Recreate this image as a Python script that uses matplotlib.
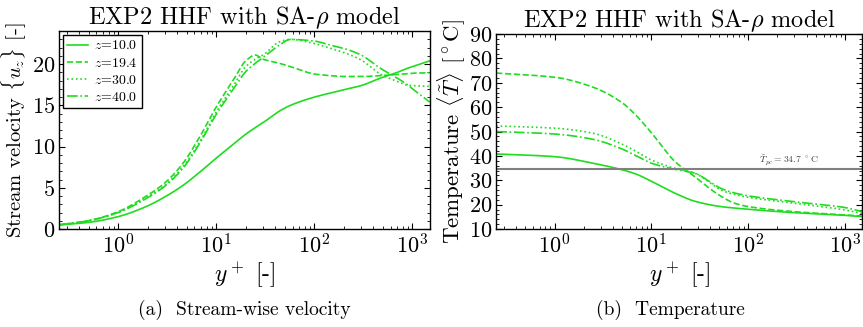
import matplotlib
matplotlib.use("Agg")
import matplotlib.pyplot as plt
import numpy as np
from matplotlib.ticker import LogLocator, MultipleLocator, NullFormatter

plt.rcParams['font.family'] = 'serif'
plt.rcParams['font.serif'] = ['cmr10', 'DejaVu Serif']
plt.rcParams['mathtext.fontset'] = 'cm'
plt.rcParams['axes.formatter.use_mathtext'] = True

labels = ["$z$=10.0", "$z$=19.4", "$z$=30.0", "$z$=40.0"]

yplus = [0.25, 0.5, 1, 2, 3, 4.6, 6.8, 10, 15, 20, 25, 30, 44, 57, 100, 146, 200, 300, 470, 700, 890, 1000, 1500]
u_z10 = [0.5, 0.8, 1.5, 2.8, 3.9, 5.3, 6.9, 8.6, 10.3, 11.5, 12.3, 12.9, 14.3, 15.0, 16.0, 16.5, 16.9, 17.4, 18.3, 19.0, 19.5, 19.7, 20.4]
u_z19 = [0.5, 1.0, 2.1, 4.1, 5.6, 8.0, 11.2, 14.8, 18.1, 20.4, 21.1, 20.6, 20.1, 19.7, 18.8, 18.6, 18.5, 18.5, 18.6, 18.75, 18.85, 18.9, 18.95]
u_z30 = [0.5, 1.0, 2.0, 3.9, 5.3, 7.6, 10.6, 14.2, 17.4, 19.7, 20.6, 21.1, 22.7, 23.0, 22.5, 21.9, 21.4, 20.5, 18.8, 17.9, 17.45, 17.4, 17.3]
u_z40 = [0.5, 1.0, 2.0, 3.8, 5.2, 7.4, 10.4, 13.9, 17.0, 19.1, 20.1, 20.8, 22.3, 23.0, 22.8, 22.3, 21.9, 21.1, 19.5, 18.3, 17.5, 17.0, 15.4]

yplus_T = [0.25, 1, 2.5, 5, 7, 10, 17.5, 28, 42, 52, 72, 100, 300, 1000, 1500]
T_z10 = [40.8, 39.7, 37.0, 34.3, 32.5, 29.6, 24.7, 21.4, 19.8, 19.2, 18.6, 18.1, 16.7, 15.6, 15.1]
T_z19 = [74.0, 72.3, 68.2, 61.8, 56.5, 49.5, 37.7, 31.5, 26.0, 23.5, 20.6, 19.2, 17.1, 15.8, 15.3]
T_z30 = [52.3, 51.4, 49.3, 44.8, 41.8, 38.3, 34.9, 32.9, 28.5, 26.0, 24.2, 23.0, 20.6, 17.8, 16.4]
T_z40 = [50.0, 49.0, 46.8, 42.8, 40.0, 37.0, 34.5, 32.9, 28.9, 26.7, 24.8, 23.6, 21.2, 18.8, 17.1]
T_pc = 34.7

green = '#1edc1e'
styles = ['-', '--', ':', '-.']


def pchip(x, y, xs):
    x = np.asarray(x, float); y = np.asarray(y, float)
    h = np.diff(x); d = np.diff(y) / h
    n = len(x); m = np.zeros(n)
    for k in range(1, n - 1):
        if d[k - 1] * d[k] > 0:
            w1 = 2 * h[k] + h[k - 1]; w2 = h[k] + 2 * h[k - 1]
            m[k] = (w1 + w2) / (w1 / d[k - 1] + w2 / d[k])
    m[0] = d[0]; m[-1] = d[-1]
    idx = np.clip(np.searchsorted(x, xs) - 1, 0, n - 2)
    t = (xs - x[idx]) / h[idx]
    h00 = 2*t**3 - 3*t**2 + 1; h10 = t**3 - 2*t**2 + t
    h01 = -2*t**3 + 3*t**2; h11 = t**3 - t**2
    return h00*y[idx] + h10*h[idx]*m[idx] + h01*y[idx+1] + h11*h[idx]*m[idx+1]


def curve(x, y):
    lx = np.log10(x)
    xs = np.linspace(lx[0], lx[-1], 500)
    return 10**xs, pchip(lx, y, xs)


fig = plt.figure(figsize=(8.63, 3.27), dpi=100)
ax1 = fig.add_axes([0.0684, 0.2997, 0.4296, 0.605])
ax2 = fig.add_axes([0.575, 0.2997, 0.424, 0.596])

for yv, ls, lab in zip([u_z10, u_z19, u_z30, u_z40], styles, labels):
    xs, ys = curve(yplus, yv)
    ax1.plot(xs, ys, ls, color=green, lw=1.2, label=lab)

for yv, ls in zip([T_z10, T_z19, T_z30, T_z40], styles):
    xs, ys = curve(yplus_T, yv)
    ax2.plot(xs, ys, ls, color=green, lw=1.2)
ax2.axhline(T_pc, color='#808080', lw=1.5)
ax2.text(265, T_pc + 0.8, r"$\tilde{T}_{pc}=34.7\ ^\circ\mathrm{C}$", fontsize=7, ha='center', va='bottom', color='#444444')

for ax in (ax1, ax2):
    ax.set_xscale('log')
    ax.set_xlim(0.25, 1500)
    ax.xaxis.set_major_locator(LogLocator(base=10, numticks=10))
    ax.xaxis.set_minor_locator(LogLocator(base=10, subs=np.arange(2, 10), numticks=10))
    ax.xaxis.set_minor_formatter(NullFormatter())
    ax.tick_params(which='both', direction='in', top=True, right=True, labelsize=16, pad=3)
    ax.tick_params(which='major', length=4)
    ax.tick_params(which='minor', length=2)
    for s in ax.spines.values():
        s.set_linewidth(1.0)
    ax.set_xlabel(r"$y^+$ [-]", fontsize=17, labelpad=2)
    ax.set_title(r"EXP2 HHF with SA-$\rho$ model", fontsize=17.5, pad=4)

ax1.set_ylim(0, 24)
ax1.yaxis.set_major_locator(MultipleLocator(5))
ax1.yaxis.set_minor_locator(MultipleLocator(1))
ax1.set_ylabel(r"Stream velocity $\{u_z\}$ [-]", fontsize=14.8, labelpad=2)
ax1.legend(loc='upper left', fontsize=10, frameon=True, fancybox=False, edgecolor='black',
           framealpha=1, handlelength=1.5, labelspacing=0.3, borderpad=0.3, handletextpad=0.4,
           borderaxespad=0.3)

ax2.set_ylim(10, 90)
ax2.yaxis.set_major_locator(MultipleLocator(10))
ax2.yaxis.set_minor_locator(MultipleLocator(2))
ax2.set_ylabel(r"Temperature $\langle\tilde{T}\rangle$ [$^\circ$C]", fontsize=16.5, labelpad=1)

fig.text(0.2835, 0.052, "(a)  Stream-wise velocity", ha='center', va='center', fontsize=14)
fig.text(0.777, 0.052, "(b)  Temperature", ha='center', va='center', fontsize=14)

fig.savefig('out.png', dpi=100)
